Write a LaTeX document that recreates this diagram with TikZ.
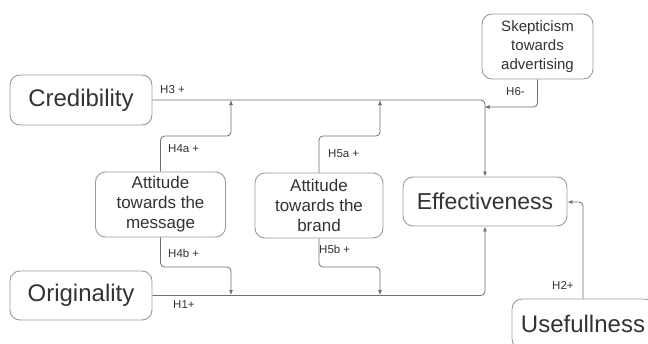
\documentclass[tikz,border=0pt]{standalone}
\usepackage{fontspec}
\setmainfont{Liberation Sans}
\usetikzlibrary{arrows.meta,calc}
\definecolor{txt}{HTML}{333333}
\definecolor{edge}{HTML}{9A9A9A}
\definecolor{wire}{HTML}{707070}
\begin{document}
\begin{tikzpicture}[x=1pt,y=-1pt,
  box/.style={draw=edge,line width=0.9pt,rounded corners=10pt,fill=white,text=txt,align=center,inner sep=0pt},
  big/.style={box,font=\fontsize{24}{28}\selectfont},
  mid/.style={box,font=\fontsize{17}{20}\selectfont},
  sml/.style={box,font=\fontsize{15}{18.8}\selectfont},
  conn/.style={draw=wire,line width=0.8pt,rounded corners=4pt,-{Latex[length=5pt,width=4pt]}},
  lab/.style={text=txt,font=\fontsize{11.5}{13}\selectfont,inner sep=0pt,anchor=west}]
\clip (0,0) rectangle (648,343);
\fill[white] (0,0) rectangle (648,343);
% nodes
\node[big,minimum width=142pt,minimum height=50pt] (cred) at (81,100) {Credibility};
\node[big,minimum width=142pt,minimum height=49pt] (orig) at (81,295.5) {Originality};
\node[mid,minimum width=130pt,minimum height=65pt] (msg) at (160.5,204.5) {Attitude\\towards the\\message};
\node[mid,minimum width=128pt,minimum height=65pt] (brand) at (319,205.5) {Attitude\\towards the\\brand};
\node[big,font=\fontsize{23}{27}\selectfont,minimum width=164pt,minimum height=49pt] (eff) at (485,201.5) {Effectiveness};
\node[sml,minimum width=111pt,minimum height=65pt] (skep) at (537.5,46.5) {Skepticism\\towards\\advertising};
\node[big,minimum width=142pt,minimum height=50pt] (use) at (583,324) {Usefullness};
% coordinates
\coordinate (h4a) at (231,100);
\coordinate (h5a) at (380,100);
\coordinate (h4b) at (231,295);
\coordinate (h5b) at (380,295);
\coordinate (h6) at (484.5,107);
\coordinate (h2) at (583,202);
% connectors
\draw[conn] (cred.east) -| (eff.north);
\draw[conn] (orig.east) -| (eff.south);
\draw[conn] (msg.north) -- (msg.north |- 0,136) -| (h4a);
\draw[conn] (brand.north) -- (brand.north |- 0,136) -| (h5a);
\draw[conn] (msg.south) -- (msg.south |- 0,267) -| (h4b);
\draw[conn] (brand.south) -- (brand.south |- 0,267) -| (h5b);
\draw[conn] (skep.south) |- (h6);
\draw[conn] (use.north) -- (h2) -- (h2 -| eff.east);
% labels
\node[lab] (l3) at (160,90) {H3 +};
\node[lab] (l4a) at (168,149) {H4a +};
\node[lab] (l5a) at (328,154) {H5a +};
\node[lab] (l4b) at (168,253) {H4b +};
\node[lab] (l5b) at (319,249) {H5b +};
\node[lab] (l1) at (173,305) {H1+};
\node[lab] (l2) at (552,285) {H2+};
\node[lab] (l6) at (506,92) {H6-};
\end{tikzpicture}
\end{document}
